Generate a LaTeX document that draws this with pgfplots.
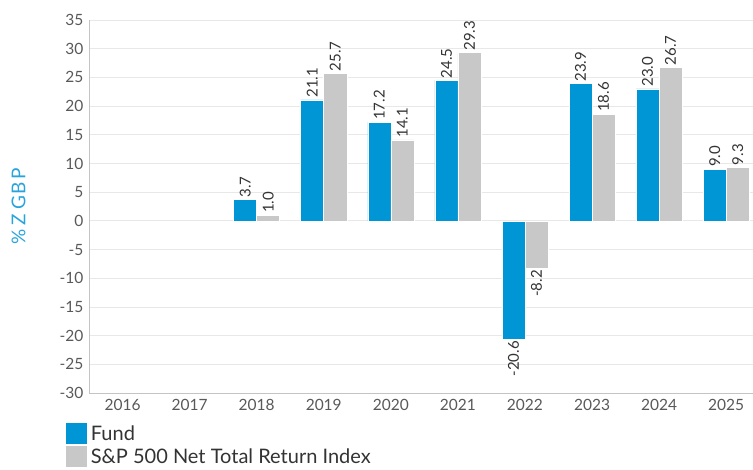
\documentclass[border=0pt]{standalone}
\usepackage{fontspec}
\setmainfont{Lato}
\usepackage{pgfplots}
\pgfplotsset{compat=1.18}
\definecolor{fundblue}{HTML}{0096D6}
\definecolor{idxgrey}{HTML}{C8C8C8}
\definecolor{ticktext}{HTML}{595959}
\definecolor{labeltext}{HTML}{333333}
\definecolor{ylab}{HTML}{29A3DC}
\definecolor{gridc}{HTML}{E8E8E8}
\definecolor{axisc}{HTML}{C4C4C4}
\begin{document}
\begin{tikzpicture}
\path[use as bounding box] (0,0) rectangle (753pt,470pt);
\begin{axis}[
  at={(89pt,77pt)}, anchor=south west,
  scale only axis, width=664pt, height=373pt,
  xmin=-0.5, xmax=9.4, ymin=-30, ymax=35,
  ytick={-30,-25,...,35},
  xtick={0,...,9}, xticklabels={2016,2017,2018,2019,2020,2021,2022,2023,2024,2025},
  axis x line*=bottom, axis y line*=left,
  axis line style={axisc, line width=0.8pt, -},
  major tick length=0pt,
  ymajorgrids, grid style={gridc, line width=0.8pt},
  /pgf/number format/assume math mode=true,
  ticklabel style={font=\fontsize{15.5}{18}\selectfont, color=ticktext},
  yticklabel style={xshift=-2pt},
  xticklabel style={yshift=-3pt},
  ylabel={\%\hspace{4pt}Z\hspace{4pt}GBP},
  ylabel style={at={(axis description cs:-0.106,0.5)}, anchor=center, font=\fontsize{19}{20}\selectfont\addfontfeatures{LetterSpace=10}, color=ylab},
  clip=false,
  legend style={at={(axis description cs:-0.035,-0.080)}, anchor=north west, draw=none, fill=none,
    font=\fontsize{20}{22}\selectfont, text=labeltext, inner sep=0pt, row sep=2pt,
    nodes={inner sep=1.5pt}},
  legend cell align=left,
  lblL/.style={every node near coord/.style={xshift=-11.5pt, rotate=90, anchor=#1,
      font=\fontsize{15}{17}\selectfont, color=labeltext, inner sep=2pt}},
  lblR/.style={every node near coord/.style={xshift=11.5pt, rotate=90, anchor=#1,
      font=\fontsize{15}{17}\selectfont, color=labeltext, inner sep=2pt}},
]
% Fund positive
\addplot[ybar, bar width=0.343, bar shift=-0.1715, fill=fundblue, draw=white, line width=0.5pt,
  nodes near coords, point meta=explicit symbolic, lblL=west, forget plot]
  table[meta=l] {
x y l
2 3.7 3.7
3 21.1 21.1
4 17.2 17.2
5 24.5 24.5
7 23.9 23.9
8 23.0 23.0
9 9.0 9.0
};
% Fund negative
\addplot[ybar, bar width=0.343, bar shift=-0.1715, fill=fundblue, draw=white, line width=0.5pt,
  nodes near coords, point meta=explicit symbolic, lblL=east, forget plot]
  table[meta=l] {
x y l
6 -20.6 -20.6
};
% Index positive
\addplot[ybar, bar width=0.343, bar shift=0.1715, fill=idxgrey, draw=white, line width=0.5pt,
  nodes near coords, point meta=explicit symbolic, lblR=west, forget plot]
  table[meta=l] {
x y l
2 1.0 1.0
3 25.7 25.7
4 14.1 14.1
5 29.3 29.3
7 18.6 18.6
8 26.7 26.7
9 9.3 9.3
};
% Index negative
\addplot[ybar, bar width=0.343, bar shift=0.1715, fill=idxgrey, draw=white, line width=0.5pt,
  nodes near coords, point meta=explicit symbolic, lblR=east, forget plot]
  table[meta=l] {
x y l
6 -8.2 -8.2
};
\addlegendimage{legend image code/.code={\fill[fundblue] (0pt,-9pt) rectangle (20pt,11pt);}}
\addlegendentry{\hspace{3pt}Fund}
\addlegendimage{legend image code/.code={\fill[idxgrey] (0pt,-9pt) rectangle (20pt,11pt);}}
\addlegendentry{\hspace{3pt}S\&P 500 Net Total Return Index}
\end{axis}
\end{tikzpicture}
\end{document}
